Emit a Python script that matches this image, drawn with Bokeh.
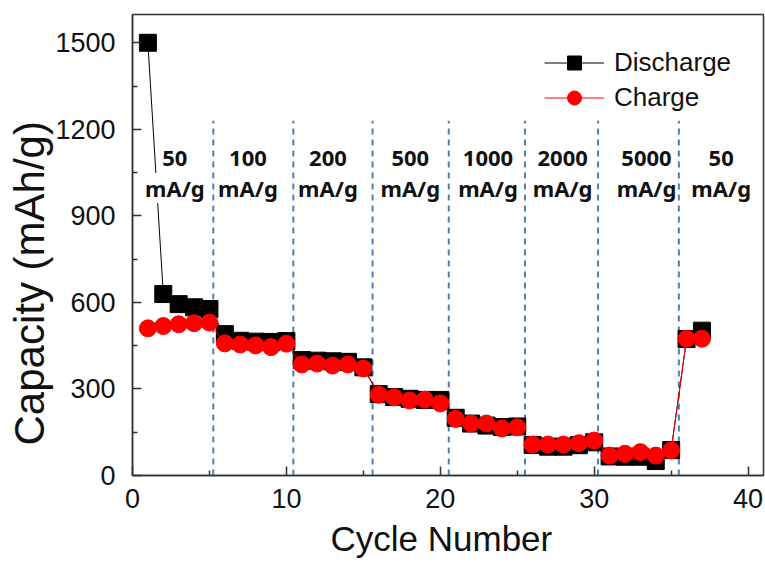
from bokeh.plotting import figure
from bokeh.models import Legend, LegendItem, Range1d, FixedTicker, Title
from bokeh.core.properties import value
from bokeh.embed import file_html
from bokeh.resources import INLINE

cycles = list(range(1, 38))
discharge = [1500, 629, 594, 583, 577,
             490, 467, 464, 463, 466,
             400, 398, 396, 394, 375,
             282, 272, 266, 262, 262,
             200, 180, 173, 168, 170,
             106, 100, 100, 105, 115,
             66, 65, 65, 50, 88,
             473, 502]
charge = [510, 518, 524, 528, 530,
          458, 454, 451, 445, 457,
          385, 388, 381, 385, 371,
          280, 271, 260, 263, 250,
          196, 180, 180, 163, 167,
          107, 107, 107, 112, 121,
          69, 75, 81, 69, 87,
          474, 474]

dividers = [5.25, 10.45, 15.6, 20.55, 25.5, 30.25, 35.5]
divider_top = 1230
rate_rates = ["50", "100", "200", "500", "1000", "2000", "5000", "50"]
rate_unit = "mA/g"
rate_x = [2.75, 7.5, 12.7, 18.05, 23.1, 27.95, 33.4, 38.25]
rate_y_top = 1100
rate_y_bottom = 997

x_ticks = [0, 10, 20, 30, 40]
y_ticks = [0, 300, 600, 900, 1200, 1500]
x_title = "Cycle Number"
y_title = "Capacity (mAh/g)"

p = figure(width=765, height=567, output_backend="svg", toolbar_location=None,
           x_range=Range1d(0, 41), y_range=Range1d(0, 1598),
           min_border_left=132, min_border_right=2, min_border_top=14, min_border_bottom=92)
p.background_fill_color = "white"
p.border_fill_color = "white"
p.outline_line_color = "#333333"
p.outline_line_width = 1.5
p.grid.visible = False

# dashed dividers
p.segment(x0=dividers, y0=[0] * len(dividers), x1=dividers, y1=[divider_top] * len(dividers),
          line_color="#4f7fae", line_width=2, line_dash="6 5")

# discharge
dl = p.line(cycles, discharge, line_color="black", line_width=1)
ds = p.scatter(cycles, discharge, marker="square", size=17, fill_color="black", line_color="black")

# rate labels (white background hides the line behind them)
p.text(x=rate_x, y=[rate_y_top] * len(rate_x), text=rate_rates,
       text_font=value("Noto Sans"), text_font_style="bold", text_font_size="22px",
       text_align="center", text_baseline="middle", text_color="#111111",
       background_fill_color="white")
p.text(x=rate_x, y=[rate_y_bottom] * len(rate_x), text=[rate_unit] * len(rate_x),
       text_font=value("Noto Sans"), text_font_style="bold", text_font_size="22px",
       text_align="center", text_baseline="middle", text_color="#111111",
       background_fill_color="white")

# charge
cl = p.line(cycles, charge, line_color="red", line_width=1)
cs = p.scatter(cycles, charge, marker="circle", size=17, fill_color="red", line_color="red")

legend = Legend(items=[LegendItem(label="Discharge", renderers=[dl, ds]),
                       LegendItem(label="Charge", renderers=[cl, cs])],
                location=(412, 360), orientation="vertical",
                glyph_width=60, glyph_height=35, label_height=35, spacing=0,
                padding=0, margin=0, label_standoff=10,
                label_text_font="Liberation Sans", label_text_font_size="26px",
                label_text_color="#111111",
                background_fill_alpha=0, border_line_alpha=0)
p.add_layout(legend)

for ax in (p.xaxis[0], p.yaxis[0]):
    ax.axis_line_color = "#333333"
    ax.axis_line_width = 1.5
    ax.major_tick_in = 9
    ax.major_tick_out = 0
    ax.minor_tick_in = 5
    ax.minor_tick_out = 0
    ax.major_tick_line_color = "#333333"
    ax.minor_tick_line_color = "#333333"
    ax.major_tick_line_width = 1.5
    ax.minor_tick_line_width = 1.5
    ax.major_label_text_font = "Liberation Sans"
    ax.major_label_text_font_size = "27px"
    ax.major_label_text_color = "#111111"
    ax.major_label_text_line_height = 1.0

p.xaxis.ticker = FixedTicker(ticks=x_ticks, minor_ticks=[5, 15, 25, 35])
p.yaxis.ticker = FixedTicker(ticks=y_ticks, minor_ticks=[150, 450, 750, 1050, 1350])
p.xaxis.major_label_standoff = 13
p.yaxis.major_label_standoff = 17

# axis titles as side titles (allows off-centre placement like the reference)
p.add_layout(Title(text=x_title, align="left", offset=198, text_font="Liberation Sans",
                   text_font_size="35px", text_font_style="normal", text_color="#111111",
                   text_line_height=0.9, standoff=13), "below")
p.add_layout(Title(text=y_title, align="left", offset=30, text_font="Liberation Sans",
                   text_font_size="42px", text_font_style="normal", text_color="#111111",
                   standoff=0), "left")

open("out.html", "w").write(file_html(p, INLINE))
